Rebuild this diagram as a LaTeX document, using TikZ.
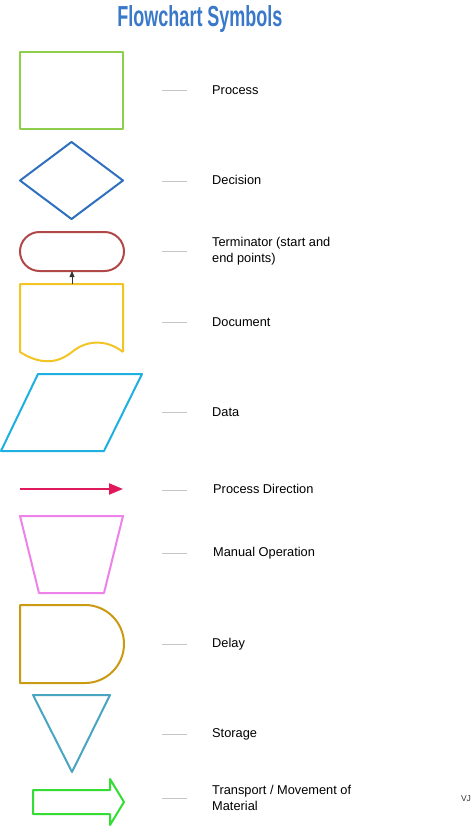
\documentclass[tikz,border=0pt]{standalone}
\usepackage{fontspec}
\setmainfont{Liberation Sans}
\usetikzlibrary{arrows.meta}
\definecolor{ctitle}{HTML}{3A78C9}
\definecolor{cproc}{HTML}{8DCF4C}
\definecolor{cdec}{HTML}{2F6FC0}
\definecolor{cterm}{HTML}{B04848}
\definecolor{cdoc}{HTML}{F2C525}
\definecolor{cdata}{HTML}{1EB0E0}
\definecolor{cdir}{HTML}{E0195A}
\definecolor{cman}{HTML}{EE82E8}
\definecolor{cdelay}{HTML}{C99A12}
\definecolor{cstore}{HTML}{4AA5C0}
\definecolor{ctrans}{HTML}{33DD33}
\tikzset{
  shapeline/.style={line width=2pt, line join=round},
  guide/.style={draw=gray!45, line width=0.8pt},
  lbl/.style={anchor=west, inner sep=0pt, font=\fontsize{12.8}{16}\selectfont, align=left}
}
\begin{document}
\begin{tikzpicture}[x=1pt,y=-1pt]
\fill[white] (0,0) rectangle (472,826);
\useasboundingbox (0,0) rectangle (472,826);
% title
\node[inner sep=0pt, text=ctitle] (title) at (200,19) {\resizebox{165pt}{21pt}{\bfseries Flowchart Symbols}};
% process
\draw[shapeline, cproc] (20,52) rectangle (123,129);
% decision
\draw[shapeline, cdec] (20,180.5) -- (71.5,142) -- (123,180.5) -- (71.5,219) -- cycle;
% terminator
\draw[shapeline, cterm, rounded corners=19.5pt] (20,232) rectangle (124,271);
\coordinate (termB) at (72,271);
% document
\draw[shapeline, cdoc] (123,352) -- (123,284) -- (20,284) -- (20,352)
  .. controls (45,368) and (62,360) .. (72,352)
  .. controls (85,341) and (105,338) .. (123,352);
\coordinate (docT) at (72,284);
\draw[-{Triangle[length=6pt,width=5pt]}, line width=0.5pt, black!80] (docT) -- (termB);
% data
\draw[shapeline, cdata] (38,374) -- (142,374) -- (104,451) -- (1,451) -- cycle;
% process direction
\coordinate (dirA) at (20,489);
\coordinate (dirB) at (123,489);
\draw[line width=2.2pt, cdir, -{Triangle[length=14pt,width=11pt]}] (dirA) -- (dirB);
% manual operation
\draw[shapeline, cman] (20,516) -- (123,516) -- (104,593) -- (39,593) -- cycle;
% delay
\draw[shapeline, cdelay] (85,605) -- (20,605) -- (20,683) -- (85,683) arc[start angle=90, end angle=-90, radius=39] -- cycle;
% storage
\draw[shapeline, cstore] (33,695) -- (110,695) -- (72,772) -- cycle;
% transport
\draw[shapeline, ctrans] (33,790) -- (110,790) -- (110,779) -- (124,802) -- (110,825) -- (110,814) -- (33,814) -- cycle;
% guide lines
\foreach \n/\y in {g1/90,g2/181,g3/251,g4/322,g5/412,g6/490,g7/553,g8/644,g9/734,g10/798}{
  \coordinate (\n a) at (162,\y);
  \coordinate (\n b) at (187,\y);
  \draw[guide] (\n a) -- (\n b);
}
% labels
\node[lbl] (l1) at (212,90) {Process};
\node[lbl] (l2) at (212,180) {Decision};
\node[lbl] (l3) at (212,251) {Terminator (start and\\end points)};
\node[lbl] (l4) at (212,322) {Document};
\node[lbl] (l5) at (212,412) {Data};
\node[lbl] (l6) at (213,489) {Process Direction};
\node[lbl] (l7) at (213,553) {Manual Operation};
\node[lbl] (l8) at (212,644) {Delay};
\node[lbl] (l9) at (212,734) {Storage};
\node[lbl] (l10) at (212,798) {Transport / Movement of\\Material};
\node[inner sep=0pt, font=\fontsize{8.5}{9}\selectfont, text=black!80] (vj) at (466,799) {VJ};
\end{tikzpicture}
\end{document}
